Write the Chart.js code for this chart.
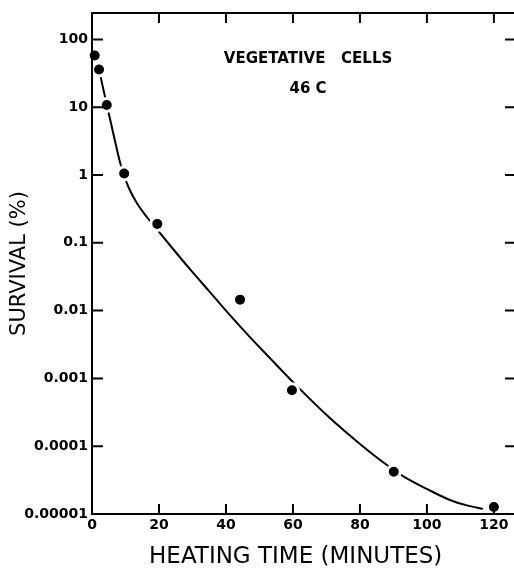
<!DOCTYPE html>
<html>
<head>
<meta charset="utf-8">
<script src="https://cdn.jsdelivr.net/npm/chart.js@4/dist/chart.umd.min.js"></script>
<style>
  html, body { margin: 0; padding: 0; background: #fff; overflow: hidden; }
  canvas { display: block; }
</style>
</head>
<body>
<canvas id="c" width="514" height="571"></canvas>
<script>
// ---- data ----
const pointTime     = [0.8, 2.1, 4.4, 9.6, 19.5, 44.2, 59.7, 90.1, 120];
const pointSurvival = [58, 36, 10.8, 1.05, 0.19, 0.0145, 0.00067, 0.000042, 0.0000127];

const curveTime     = [1.04, 2.09, 3.13, 4.39, 5.67, 7.16, 8.36, 9.55, 11.04, 13.43, 16.42, 19.40, 23.28, 29.25, 35.22, 41.19, 47.16, 53.13, 61.49, 71.04, 80.0, 88.06, 92.84, 100.0, 106.87, 111.94, 116.72];
const curveSurvival = [54.3, 36.1, 21.0, 11.0, 5.78, 2.74, 1.54, 0.99, 0.637, 0.383, 0.238, 0.158, 0.092, 0.0408, 0.0187, 0.00857, 0.00406, 0.00199, 0.000744, 0.000260, 0.000108, 0.0000527, 0.0000363, 0.0000234, 0.0000161, 0.0000134, 0.0000119];

const xTicks = [0, 20, 40, 60, 80, 100, 120];
const yTicks = [0.00001, 0.0001, 0.001, 0.01, 0.1, 1, 10, 100];
const yTickLabels = ['0.00001', '0.0001', '0.001', '0.01', '0.1', '1', '10', '100'];

const annotationLines = ['VEGETATIVE   CELLS', '46 C'];

// ---- plugin: inward tick marks, frame, annotation ----
const framePlugin = {
  id: 'frame',
  afterDraw(chart, args, opts) {
    const ctx = chart.ctx;
    const xs = chart.scales.x, ys = chart.scales.y;
    const a = chart.chartArea;
    ctx.save();
    ctx.strokeStyle = '#000';
    ctx.lineWidth = 2;
    ctx.lineCap = 'butt';
    ctx.beginPath();
    ctx.moveTo(a.left, a.top); ctx.lineTo(a.left, a.bottom + 1);
    ctx.moveTo(a.left - 1, a.top); ctx.lineTo(a.right, a.top);
    ctx.moveTo(a.left - 1, a.bottom); ctx.lineTo(a.right, a.bottom);
    xTicks.forEach(v => {
      if (v === xs.min) return;
      const px = xs.getPixelForValue(v);
      ctx.moveTo(px, a.bottom); ctx.lineTo(px, a.bottom - 10);
      ctx.moveTo(px, a.top); ctx.lineTo(px, a.top + 10);
    });
    yTicks.forEach(v => {
      const py = ys.getPixelForValue(v);
      ctx.moveTo(a.left, py); ctx.lineTo(a.left + 11, py);
      ctx.moveTo(a.right, py); ctx.lineTo(a.right - 9, py);
    });
    ctx.stroke();

    ctx.fillStyle = '#000';
    ctx.textAlign = 'center';
    ctx.textBaseline = 'middle';
    opts.items.forEach((it, i) => {
      ctx.font = opts.font;
      ctx.fillText(annotationLines[i], xs.getPixelForValue(it.x), ys.getPixelForValue(it.y));
    });
    ctx.restore();
  }
};

const ctx = document.getElementById('c').getContext('2d');
new Chart(ctx, {
  data: {
    datasets: [
      {
        type: 'scatter',
        label: 'Vegetative cells',
        data: pointTime.map((t, i) => ({ x: t, y: pointSurvival[i] })),
        backgroundColor: '#000',
        borderColor: '#fff',
        pointRadius: 6.5,
        pointBorderWidth: 3,
        pointHoverRadius: 6.5,
        clip: false,
        order: 0
      },
      {
        type: 'line',
        label: 'Fit',
        data: curveTime.map((t, i) => ({ x: t, y: curveSurvival[i] })),
        borderColor: '#000',
        borderWidth: 2,
        pointRadius: 0,
        fill: false,
        cubicInterpolationMode: 'monotone',
        order: 1
      }
    ]
  },
  options: {
    responsive: false,
    animation: false,
    devicePixelRatio: 1,
    layout: { autoPadding: false, padding: { top: 13, right: 0, bottom: 0, left: 0 } },
    plugins: {
      legend: { display: false },
      tooltip: { enabled: false },
      frame: {
        font: 'bold 15px "DejaVu Sans"',
        items: [ { x: 64.5, y: 51 }, { x: 64.5, y: 18.4 } ]
      }
    },
    scales: {
      x: {
        type: 'linear',
        position: 'bottom',
        min: 0,
        max: 126,
        afterBuildTicks: s => { s.ticks = xTicks.map(v => ({ value: v })); },
        afterFit: s => { s.height = 57; s.paddingRight = 0; s.paddingLeft = 0; },
        grid: { display: false, drawTicks: false },
        border: { display: false },
        ticks: {
          color: '#000',
          padding: 3,
          maxRotation: 0,
          font: { family: 'DejaVu Sans', size: 14, weight: 'bold' }
        },
        title: {
          display: true,
          text: 'HEATING TIME (MINUTES)  ',
          color: '#000',
          padding: { top: 0, bottom: 0 },
          font: { family: 'DejaVu Sans', size: 23 }
        }
      },
      y: {
        type: 'logarithmic',
        position: 'left',
        min: 0.00001,
        max: 245,
        afterBuildTicks: s => { s.ticks = yTicks.map(v => ({ value: v })); },
        afterFit: s => { s.width = 92; s.paddingTop = 0; s.paddingBottom = 0; },
        grid: { display: false, drawTicks: false },
        border: { display: false },
        ticks: {
          color: '#000',
          padding: 4,
          font: { family: 'DejaVu Sans', size: 14, weight: 'bold' },
          callback: (v, i) => yTickLabels[i]
        },
        title: {
          display: true,
          text: 'SURVIVAL (%)',
          color: '#000',
          padding: { top: 7, bottom: 0 },
          font: { family: 'DejaVu Sans', size: 21 }
        }
      }
    }
  },
  plugins: [framePlugin]
});
</script>
</body>
</html>
